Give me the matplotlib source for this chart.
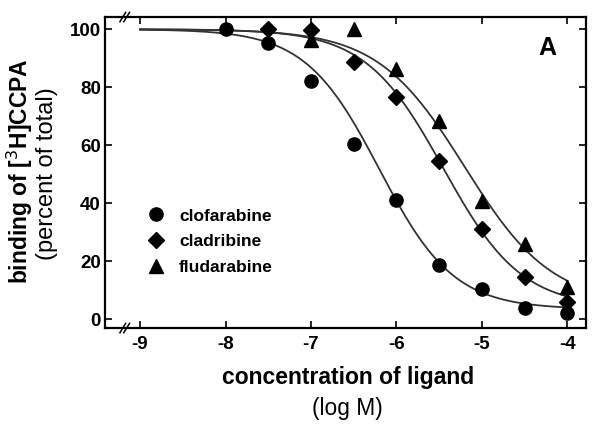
import numpy as np
import matplotlib
matplotlib.use("Agg")
import matplotlib.pyplot as plt

plt.rcParams['font.family'] = ['Liberation Sans', 'DejaVu Sans']
plt.rcParams['axes.unicode_minus'] = False

# measured points (log M, % of total)
clo_x = [-8, -7.5, -7, -6.5, -6, -5.5, -5, -4.5, -4]
clo_y = [100, 95.2, 82.0, 60.5, 41.1, 18.7, 10.6, 3.8, 2.1]
cla_x = [-7.5, -7, -6.5, -6, -5.5, -5, -4.5, -4]
cla_y = [100, 99.6, 88.6, 76.6, 54.6, 31.3, 14.7, 6.1]
flu_x = [-7, -6.5, -6, -5.5, -5, -4.5, -4]
flu_y = [96.3, 100, 86.2, 68.5, 40.9, 25.9, 11.0]

# fitted one-site curves: top, bottom, logEC50, hill slope
clo_fit = [100, 3.5, -6.2, 1.0]
cla_fit = [100, 4.0, -5.45, 0.95]
flu_fit = [100, 5.0, -5.2, 0.85]

labels = ['clofarabine', 'cladribine', 'fludarabine']


def hill(x, p):
    top, bottom, ec50, n = p
    return bottom + (top - bottom) / (1 + 10 ** ((x - ec50) * n))


fig = plt.figure(figsize=(6, 4.26), dpi=100)
ax = fig.add_axes([0.175, 0.230, 0.802, 0.730])

xx = np.linspace(-9, -4, 300)
for p in (clo_fit, cla_fit, flu_fit):
    ax.plot(xx, hill(xx, p), color='#333333', lw=1.3, zorder=2)

ax.plot(clo_x, clo_y, 'o', color='black', ms=9.5, ls='none', label=labels[0], zorder=3)
ax.plot(cla_x, cla_y, 'D', color='black', ms=8, ls='none', label=labels[1], zorder=3)
ax.plot(flu_x, flu_y, '^', color='black', ms=10.5, ls='none', label=labels[2], zorder=3)

ax.set_xlim(-9.41, -3.78)
ax.set_ylim(-3.0, 104.2)
ax.set_xticks([-9, -8, -7, -6, -5, -4])
ax.set_yticks([0, 20, 40, 60, 80, 100])
ax.tick_params(direction='in', length=5, width=1.2, top=True, right=True,
               labelsize=13.5, labeltop=False, labelright=False)
ax.tick_params(axis='x', pad=6)
ax.tick_params(axis='y', pad=3)
for lab in ax.get_xticklabels() + ax.get_yticklabels():
    lab.set_fontweight('bold')
for s in ax.spines.values():
    s.set_linewidth(1.6)

# axis break marks
for yb in (0, 1):
    for dx in (0, 0.008):
        x0 = 0.037 + dx
        ax.plot([x0 - 0.006, x0 + 0.006], [yb - 0.015, yb + 0.015],
                transform=ax.transAxes, color='black', lw=1.1, clip_on=False)

ax.text(0.919, 0.90, 'A', transform=ax.transAxes, fontsize=18,
        fontweight='bold', ha='center', va='center')

ax.legend(loc='upper left', bbox_to_anchor=(0.055, 0.435), frameon=False,
          handlelength=1.0, handletextpad=0.85, labelspacing=0.62,
          prop={'weight': 'bold', 'size': 12.5}, numpoints=1)

fig.text(0.033, 0.599, 'binding of [$^{3}$H]CCPA', rotation=90, fontsize=16.5,
         fontweight='bold', ha='center', va='center')
fig.text(0.079, 0.593, '(percent of total)', rotation=90, fontsize=17,
         ha='center', va='center')
fig.text(0.58, 0.115, 'concentration of ligand', fontsize=16.5,
         fontweight='bold', ha='center', va='center')
fig.text(0.579, 0.042, '(log M)', fontsize=16.4, ha='center', va='center')

fig.savefig('out.png', dpi=100)
